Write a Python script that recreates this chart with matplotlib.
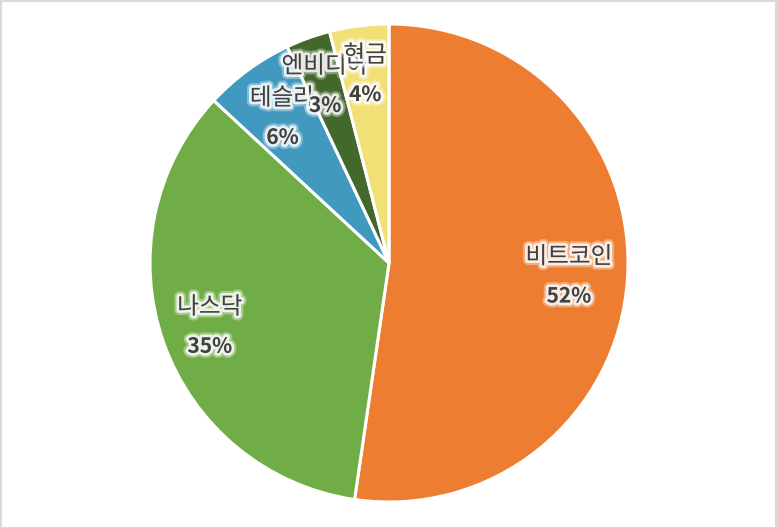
import matplotlib
matplotlib.use("Agg")
import matplotlib.pyplot as plt
import matplotlib.patheffects as pe
import numpy as np
from matplotlib.patches import Rectangle

categories = ["비트코인", "나스닥", "테슬라", "엔비디아", "현금"]
values = [52.3, 34.6, 6.1, 3.0, 4.0]
pct_labels = ["52%", "35%", "6%", "3%", "4%"]
colors = ["#ED7D31", "#70AD47", "#4299BF", "#43682B", "#F0E075"]
label_frac = [0.755, 0.795, 0.755, 0.79, 0.795]

plt.rcParams['font.family'] = ['Noto Sans CJK KR', 'DejaVu Sans']

W, H = 777, 528
fig = plt.figure(figsize=(W/100, H/100), dpi=100)
ax = fig.add_axes([0, 0, 1, 1])

cx, cy, R = 389, H - 263, 239
wedges, _ = ax.pie(values, colors=colors, startangle=90, counterclock=False,
                   center=(cx, cy), radius=R, frame=True,
                   wedgeprops=dict(edgecolor='white', linewidth=2.2))
ax.set_xlim(0, W)
ax.set_ylim(0, H)
ax.set_aspect('equal')
ax.axis('off')

glow = [pe.withStroke(linewidth=7, foreground='white', alpha=0.35),
        pe.withStroke(linewidth=4, foreground='white', alpha=0.8)]
for w, name, pct, f in zip(wedges, categories, pct_labels, label_frac):
    ang = np.deg2rad((w.theta1 + w.theta2) / 2)
    x = cx + R * f * np.cos(ang)
    y = cy + R * f * np.sin(ang)
    ax.text(x, y + 19, name, ha='center', va='center', fontsize=17,
            color='#404040', path_effects=glow)
    ax.text(x, y - 20, pct, ha='center', va='center', fontsize=15,
            fontweight='bold', color='#404040', path_effects=glow)

fig.add_artist(Rectangle((0.5/W, 0.5/H), 1 - 1.5/W, 1 - 1.5/H, transform=fig.transFigure,
                         fill=False, edgecolor='#D9D9D9', linewidth=1.5))

fig.savefig("out.png", dpi=100, facecolor='white')
